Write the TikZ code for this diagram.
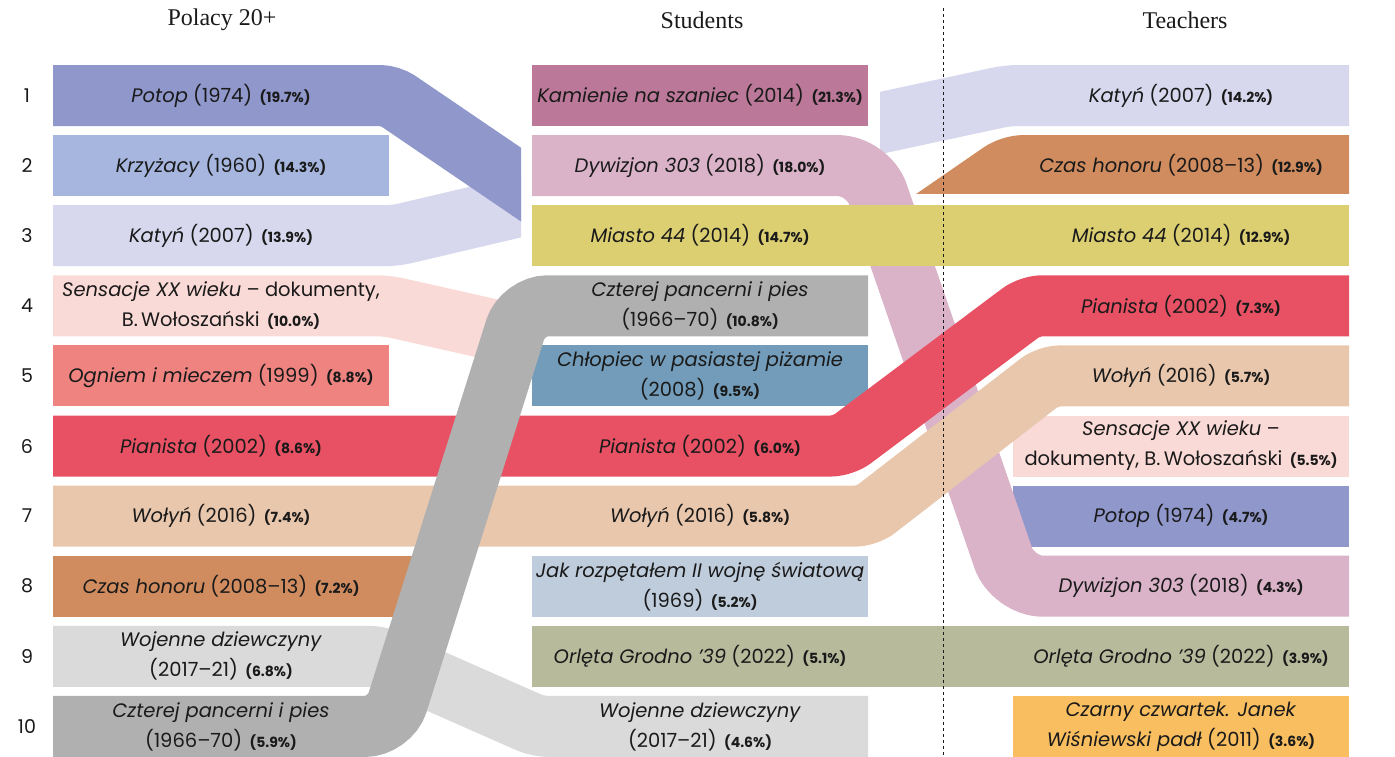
\documentclass[tikz,border=0pt]{standalone}
\usepackage{fontspec}
\newfontfamily\lblfont{Poppins}
\newfontfamily\headfont{Liberation Serif}
\definecolor{ink}{HTML}{1A1A1A}
\definecolor{cpotop}{HTML}{8F97CB}
\definecolor{ckrzyz}{HTML}{A6B6DF}
\definecolor{ckatyn}{HTML}{D7D8EE}
\definecolor{csens}{HTML}{FADAD6}
\definecolor{cogniem}{HTML}{EF8380}
\definecolor{cpian}{HTML}{E85163}
\definecolor{cwolyn}{HTML}{E9C7AD}
\definecolor{cczas}{HTML}{D08C5E}
\definecolor{cwoj}{HTML}{DADADA}
\definecolor{cczter}{HTML}{B0B0B0}
\definecolor{ckam}{HTML}{BC7898}
\definecolor{cdyw}{HTML}{DAB3C9}
\definecolor{cmiasto}{HTML}{DCCF72}
\definecolor{cchlop}{HTML}{729CB9}
\definecolor{cjak}{HTML}{BFCCDC}
\definecolor{corl}{HTML}{B7BB9C}
\definecolor{cczarny}{HTML}{F8BE60}
\tikzset{
  band/.style={draw=#1, line width=61pt, line cap=butt},
  lbl/.style={font=\lblfont\fontsize{19.5}{30}\selectfont, align=center, text=ink, inner sep=0pt},
  num/.style={font=\lblfont\fontsize{19}{19}\selectfont, text=ink, inner sep=0pt},
  head/.style={font=\headfont\fontsize{24}{24}\selectfont, text=ink, inner sep=0pt},
  divider/.style={draw=ink, line width=0.9pt, dash pattern=on 3pt off 3pt},
}
\newcommand{\pct}[1]{\hspace{0.38em}{\fontsize{14}{14}\selectfont\bfseries #1}}
\begin{document}
\begin{tikzpicture}[x=1pt,y=-1pt]
\useasboundingbox (0,0) rectangle (1395,756);
\clip (0,0) rectangle (1395,756);
% left simple boxes
\draw[band=ckrzyz] (53,165.6) -- (389,165.6);
\draw[band=cogniem] (53,375.9) -- (389,375.9);
% left bands ending before middle column
\begin{scope}
  \clip (0,0) rectangle (521,756);
  \draw[band=ckatyn, rounded corners=10] (53,235.7) -- (395,235.7) -- (600,187.5);
  \draw[band=cpotop, rounded corners=10] (53,95.5) -- (390,95.5) -- (600,238.3);
\end{scope}
\draw[band=csens, rounded corners=10] (53,305.8) -- (387,305.8) -- (505,332.4);
\draw[band=cczas] (53,586.2) -- (440,586.2);
% middle boxes
\draw[band=ckam] (532,95.5) -- (868,95.5);
\draw[band=cchlop] (532,375.9) -- (868,375.9);
\draw[band=cjak] (532,586.2) -- (868,586.2);
% right bands entering
\begin{scope}
  \clip (880,0) rectangle (1395,756);
  \draw[band=ckatyn, rounded corners=10] (840,131.6) -- (1008,95.5) -- (1349,95.5);
\end{scope}
\begin{scope}
  \clip (0,0) rectangle (1395,193.3);
  \draw[band=cczas, rounded corners=12] (850,276.6) -- (1011,165.6) -- (1349,165.6);
\end{scope}
% right boxes
\draw[band=csens] (1013,446) -- (1349,446);
\draw[band=cpotop] (1013,516.1) -- (1349,516.1);
\draw[band=cczarny] (1013,726.4) -- (1349,726.4);
% Dywizjon 303
\draw[band=cdyw, rounded corners=30] (532,165.6) -- (868,165.6) -- (1013,586.2) -- (1349,586.2);
% long horizontal
\draw[band=cmiasto] (532,235.7) -- (1349,235.7);
\draw[band=corl] (532,656.3) -- (1349,656.3);
% Pianista, Wolyn
\draw[band=cpian, rounded corners=12] (53,446) -- (843,446) -- (1030,305.8) -- (1349,305.8);
\draw[band=cwolyn, rounded corners=12] (53,516.1) -- (867,516.1) -- (1048,375.9) -- (1349,375.9);
% Wojenne dziewczyny
\draw[band=cwoj, rounded corners=10] (53,656.3) -- (379,656.3) -- (538,726.4) -- (868,726.4);
% Czterej pancerni
\draw[band=cczter, rounded corners=25] (53,726.4) -- (390,726.4) -- (522.7,305.8) -- (868,305.8);
% divider
\coordinate (dtop) at (943,8);
\coordinate (dbot) at (943,756);
\draw[divider] (dtop) -- (dbot);
% headers
\node[head] (h1) at (222,20) {Polacy 20+};
\node[head] (h2) at (702,20) {Students};
\node[head] (h3) at (1185,20) {Teachers};
% row numbers
\foreach \i/\y in {1/95.5,2/165.6,3/235.7,4/305.8,5/375.9,6/446,7/516.1,8/586.2,9/656.3,10/726.4}
  \node[num] (n\i) at (27,\y) {\i};
% left labels
\node[lbl] (l1) at (221,95.5) {\textit{Potop} (1974)\pct{(19.7\%)}};
\node[lbl] (l2) at (221,165.6) {\textit{Krzyżacy} (1960)\pct{(14.3\%)}};
\node[lbl] (l3) at (221,235.7) {\textit{Katyń} (2007)\pct{(13.9\%)}};
\node[lbl] (l4) at (221,305.8) {\textit{Sensacje XX wieku} – dokumenty,\\B.\,Wołoszański\pct{(10.0\%)}};
\node[lbl] (l5) at (221,375.9) {\textit{Ogniem i mieczem} (1999)\pct{(8.8\%)}};
\node[lbl] (l6) at (221,446) {\textit{Pianista} (2002)\pct{(8.6\%)}};
\node[lbl] (l7) at (221,516.1) {\textit{Wołyń} (2016)\pct{(7.4\%)}};
\node[lbl] (l8) at (221,586.2) {\textit{Czas honoru} (2008–13)\pct{(7.2\%)}};
\node[lbl] (l9) at (221,656.3) {\textit{Wojenne dziewczyny}\\(2017–21)\pct{(6.8\%)}};
\node[lbl] (l10) at (221,726.4) {\textit{Czterej pancerni i pies}\\(1966–70)\pct{(5.9\%)}};
% middle labels
\node[lbl] (m1) at (700,95.5) {\textit{Kamienie na szaniec} (2014)\pct{(21.3\%)}};
\node[lbl] (m2) at (700,165.6) {\textit{Dywizjon 303} (2018)\pct{(18.0\%)}};
\node[lbl] (m3) at (700,235.7) {\textit{Miasto 44} (2014)\pct{(14.7\%)}};
\node[lbl] (m4) at (700,305.8) {\textit{Czterej pancerni i pies}\\(1966–70)\pct{(10.8\%)}};
\node[lbl] (m5) at (700,375.9) {\textit{Chłopiec w pasiastej piżamie}\\(2008)\pct{(9.5\%)}};
\node[lbl] (m6) at (700,446) {\textit{Pianista} (2002)\pct{(6.0\%)}};
\node[lbl] (m7) at (700,516.1) {\textit{Wołyń} (2016)\pct{(5.8\%)}};
\node[lbl] (m8) at (700,586.2) {\textit{Jak rozpętałem II wojnę światową}\\(1969)\pct{(5.2\%)}};
\node[lbl] (m9) at (700,656.3) {\textit{Orlęta Grodno ’39} (2022)\pct{(5.1\%)}};
\node[lbl] (m10) at (700,726.4) {\textit{Wojenne dziewczyny}\\(2017–21)\pct{(4.6\%)}};
% right labels
\node[lbl] (r1) at (1181,95.5) {\textit{Katyń} (2007)\pct{(14.2\%)}};
\node[lbl] (r2) at (1181,165.6) {\textit{Czas honoru} (2008–13)\pct{(12.9\%)}};
\node[lbl] (r3) at (1181,235.7) {\textit{Miasto 44} (2014)\pct{(12.9\%)}};
\node[lbl] (r4) at (1181,305.8) {\textit{Pianista} (2002)\pct{(7.3\%)}};
\node[lbl] (r5) at (1181,375.9) {\textit{Wołyń} (2016)\pct{(5.7\%)}};
\node[lbl] (r6) at (1181,446) {\textit{Sensacje XX wieku} –\\dokumenty, B.\,Wołoszański\pct{(5.5\%)}};
\node[lbl] (r7) at (1181,516.1) {\textit{Potop} (1974)\pct{(4.7\%)}};
\node[lbl] (r8) at (1181,586.2) {\textit{Dywizjon 303} (2018)\pct{(4.3\%)}};
\node[lbl] (r9) at (1181,656.3) {\textit{Orlęta Grodno ’39} (2022)\pct{(3.9\%)}};
\node[lbl] (r10) at (1181,726.4) {\textit{Czarny czwartek. Janek}\\\textit{Wiśniewski padł} (2011)\pct{(3.6\%)}};
\end{tikzpicture}
\end{document}
